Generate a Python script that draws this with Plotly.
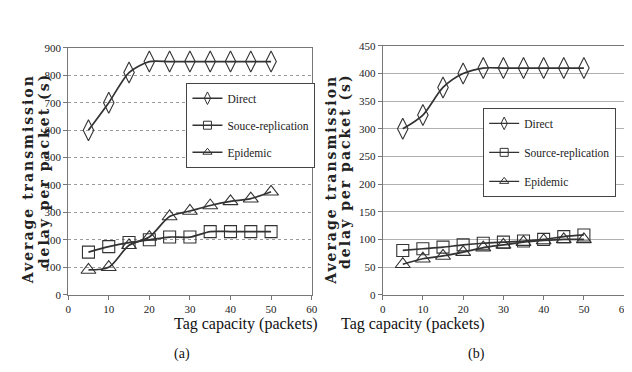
import plotly.graph_objects as go

# ---- data ----
capacity = [5, 10, 15, 20, 25, 30, 35, 40, 45, 50]

a_direct = [600, 700, 810, 850, 850, 850, 850, 850, 850, 850]
a_source = [155, 175, 190, 200, 210, 210, 230, 230, 230, 230]
a_epidemic = [90, 100, 180, 210, 285, 305, 325, 340, 350, 375]

b_direct = [300, 325, 375, 400, 410, 410, 410, 410, 410, 410]
b_source = [80, 83, 86, 90, 93, 95, 97, 100, 105, 108]
b_epidemic = [55, 65, 70, 77, 85, 90, 95, 98, 100, 100]

a_names = ["Direct", "Souce-replication", "Epidemic"]
b_names = ["Direct", "Source-replication", "Epidemic"]

symbols = ["diamond-tall-open", "square-open", "triangle-up-open"]
sizes = [15, 12, 13]
leg_sizes = [9, 8, 8]
ink = "#333333"
serif = "Liberation Serif"

fig = go.Figure()


def add(xs, ys, name, i, xa, ya, legend, grp):
    fig.add_trace(go.Scatter(
        x=xs, y=ys, name=name, mode="lines+markers", showlegend=False,
        line=dict(color=ink, width=1.7, shape="spline", smoothing=0.8),
        marker=dict(symbol=symbols[i], size=sizes[i], color=ink,
                    line=dict(color=ink, width=1.1)),
        xaxis=xa, yaxis=ya, legendgroup=grp,
    ))
    # legend entry with small symbol (as in the reference legend)
    fig.add_trace(go.Scatter(
        x=[None], y=[None], name=name, mode="lines+markers", showlegend=True,
        line=dict(color=ink, width=1.4),
        marker=dict(symbol=symbols[i], size=leg_sizes[i], color=ink,
                    line=dict(color=ink, width=1)),
        xaxis=xa, yaxis=ya, legend=legend, legendgroup=grp,
    ))


for i, (ys, nm) in enumerate(zip([a_direct, a_source, a_epidemic], a_names)):
    add(capacity, ys, nm, i, "x", "y", "legend", "a%d" % i)
for i, (ys, nm) in enumerate(zip([b_direct, b_source, b_epidemic], b_names)):
    add(capacity, ys, nm, i, "x2", "y2", "legend2", "b%d" % i)

W, H = 632, 372


def px(x):
    return x / W


def py(y):
    return 1 - y / H


axis_common = dict(
    showline=True, linecolor="#777", linewidth=1, mirror=True,
    ticks="outside", ticklen=4, tickcolor="#777",
    tickfont=dict(family=serif, size=11, color="#222"),
    zeroline=False,
)

leg_common = dict(
    xanchor="left", yanchor="top", bordercolor="#444", borderwidth=1,
    bgcolor="white", font=dict(family=serif, size=11.5, color="#222"),
    traceorder="grouped", itemwidth=30,
)

fig.update_layout(
    width=W, height=H,
    margin=dict(l=0, r=0, t=0, b=0),
    paper_bgcolor="white", plot_bgcolor="white",
    showlegend=True,
    xaxis=dict(domain=[px(58), px(305)], range=[0, 60], dtick=10, showgrid=False,
               anchor="y", **axis_common),
    yaxis=dict(domain=[py(290), py(35)], range=[0, 900], dtick=100, showgrid=True,
               gridcolor="#9a9a9a", griddash="dot", gridwidth=1, anchor="x",
               **axis_common),
    xaxis2=dict(domain=[px(377), px(622)], range=[0, 60], dtick=10, showgrid=False,
                anchor="y2", **axis_common),
    yaxis2=dict(domain=[py(290), py(33)], range=[0, 450], dtick=50, showgrid=True,
                gridcolor="#b0b0b0", gridwidth=1, anchor="x2", **axis_common),
    legend=dict(x=px(178), y=py(71), tracegroupgap=8, **leg_common),
    legend2=dict(x=px(479), y=py(97), tracegroupgap=10, **leg_common),
)

ytitle_font = dict(family="DejaVu Serif", size=14, color="#222")
sp = '<span style="letter-spacing:2px">'
anns = [
    # panel (a)
    dict(x=px(18), y=py(171), text=sp + "<b>Average transmission</b></span>"),
    dict(x=px(33), y=py(162), text=sp + "<b>delay per packet (s)</b></span>"),
    # panel (b)
    dict(x=px(325), y=py(171), text=sp + "<b>Average transmission</b></span>"),
    dict(x=px(339), y=py(162), text=sp + "<b>delay per packet (s)</b></span>"),
]
for a in anns:
    fig.add_annotation(xref="paper", yref="paper", showarrow=False, textangle=-90,
                       font=ytitle_font, xanchor="center", yanchor="middle", **a)

for cx, lab in [(163, "(a)"), (483, "(b)")]:
    fig.add_annotation(xref="paper", yref="paper", x=px(cx), y=py(332),
                       text="Tag capacity (packets)", showarrow=False,
                       font=dict(family=serif, size=16, color="#111"))
    fig.add_annotation(xref="paper", yref="paper", x=px(cx), y=py(362),
                       text=lab, showarrow=False,
                       font=dict(family=serif, size=14, color="#111"))

fig.write_html("out.html")
